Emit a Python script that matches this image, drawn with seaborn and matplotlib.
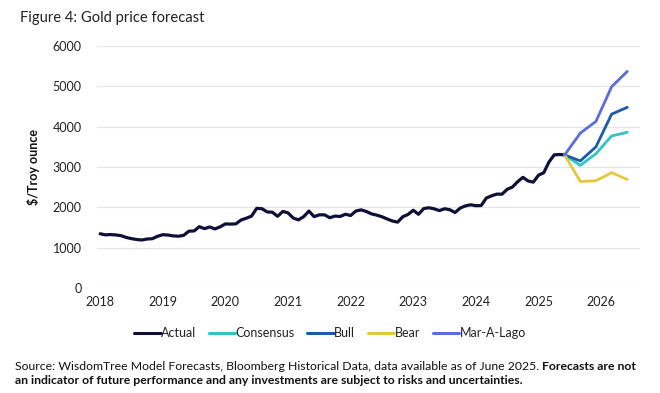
import numpy as np
import pandas as pd
import matplotlib
matplotlib.use("Agg")
import matplotlib.pyplot as plt
import seaborn as sns

# ---- data ----
actual_start_year = 2018  # monthly values from Jan 2018 to Jun 2025
actual = [
    1345, 1318, 1325, 1315, 1298, 1253, 1224, 1202, 1190, 1215, 1222, 1282,
    1321, 1313, 1292, 1284, 1305, 1409, 1414, 1520, 1472, 1513, 1464, 1517,
    1589, 1585, 1590, 1686, 1730, 1781, 1975, 1967, 1886, 1879, 1777, 1898,
    1863, 1734, 1690, 1769, 1907, 1770, 1814, 1814, 1743, 1783, 1774, 1829,
    1797, 1909, 1937, 1897, 1837, 1807, 1766, 1711, 1661, 1633, 1768, 1824,
    1928, 1827, 1969, 1990, 1963, 1919, 1965, 1940, 1871, 1983, 2036, 2063,
    2040, 2044, 2230, 2286, 2327, 2326, 2448, 2503, 2635, 2744, 2653, 2625,
    2798, 2858, 3124, 3300, 3310, 3300,
]
forecast_months = ["2025-06", "2025-09", "2025-12", "2026-03", "2026-06"]
consensus = [3300, 3040, 3330, 3770, 3860]
bull = [3300, 3150, 3500, 4310, 4480]
bear = [3300, 2640, 2660, 2860, 2690]
maralago = [3300, 3840, 4130, 4990, 5370]

series_names = ["Actual", "Consensus", "Bull", "Bear", "Mar-A-Lago"]
colors = ["#0f0f38", "#30c4c8", "#1b5bab", "#e2ca3e", "#5a6ce0"]
y_ticks = [0, 1000, 2000, 3000, 4000, 5000, 6000]
x_ticks = [2018, 2019, 2020, 2021, 2022, 2023, 2024, 2025, 2026]


def to_year(ym):
    y, m = ym.split("-")
    return int(y) + (int(m) - 1) / 12


rows = []
for i, v in enumerate(actual):
    rows.append((actual_start_year + i / 12, v, "Actual"))
fx = [to_year(m) for m in forecast_months]
for name, vals in [("Consensus", consensus), ("Bull", bull), ("Bear", bear), ("Mar-A-Lago", maralago)]:
    for x, v in zip(fx, vals):
        rows.append((x, v, name))
df = pd.DataFrame(rows, columns=["date", "value", "series"])

# ---- plot ----
sns.set_theme(style="white")
plt.rcParams["font.family"] = ["Lato", "DejaVu Sans"]

fig = plt.figure(figsize=(6.6, 3.93), dpi=100)
ax = fig.add_axes([97 / 660, 1 - 288 / 393, (640 - 97) / 660, (288 - 46) / 393])

sns.lineplot(data=df, x="date", y="value", hue="series", hue_order=series_names,
             palette=dict(zip(series_names, colors)), ax=ax, legend=True,
             estimator=None, sort=False)
for line in ax.get_lines():
    line.set_linewidth(2.0)
    line.set_solid_joinstyle("round")
ax.get_lines()[0].set_linewidth(2.3)

ax.set_ylim(0, 6000)
ax.set_xlim(2017.95, 2026.62)
ax.set_yticks(y_ticks)
ax.set_yticklabels([str(t) for t in y_ticks])
ax.set_xticks(x_ticks)
ax.set_xticklabels([str(t) for t in x_ticks])
ax.grid(axis="y", color="#e6e6e6", linewidth=0.9)
ax.grid(axis="x", visible=False)
for s in ax.spines.values():
    s.set_visible(False)
ax.tick_params(axis="both", length=0, labelsize=9, colors="#222222")
ax.tick_params(axis="y", pad=11)
ax.tick_params(axis="x", pad=6)
ax.set_xlabel("")
ax.set_ylabel("$/Troy ounce", fontsize=9, fontweight="bold", color="#111111", labelpad=9)

leg = ax.legend(loc="center", bbox_to_anchor=(0.5, 1 - 333 / 393), bbox_transform=fig.transFigure,
                ncol=5, frameon=False, fontsize=9, handlelength=2.1, handletextpad=0.05,
                columnspacing=1.0)
for h in leg.get_lines():
    h.set_linewidth(2.2)
for t in leg.get_texts():
    t.set_color("#222222")

fig.text(20 / 660, 1 - 18 / 393, "Figure 4: Gold price forecast", fontsize=10.6, color="#222222",
         va="center", ha="left")

t1 = fig.text(15 / 660, 1 - 366 / 393,
              "Source: WisdomTree Model Forecasts, Bloomberg Historical Data, data available as of June 2025. ",
              fontsize=8.8, color="#111111", va="center", ha="left")
fig.canvas.draw()
bb = t1.get_window_extent(renderer=fig.canvas.get_renderer())
x_end = bb.x1 / fig.bbox.width
fig.text(x_end, 1 - 366 / 393, "Forecasts are not", fontsize=8.8, fontweight="bold",
         color="#111111", va="center", ha="left")
fig.text(15 / 660, 1 - 381 / 393,
         "an indicator of future performance and any investments are subject to risks and uncertainties.",
         fontsize=8.8, fontweight="bold", color="#111111", va="center", ha="left")

fig.savefig("out.png", dpi=100)
